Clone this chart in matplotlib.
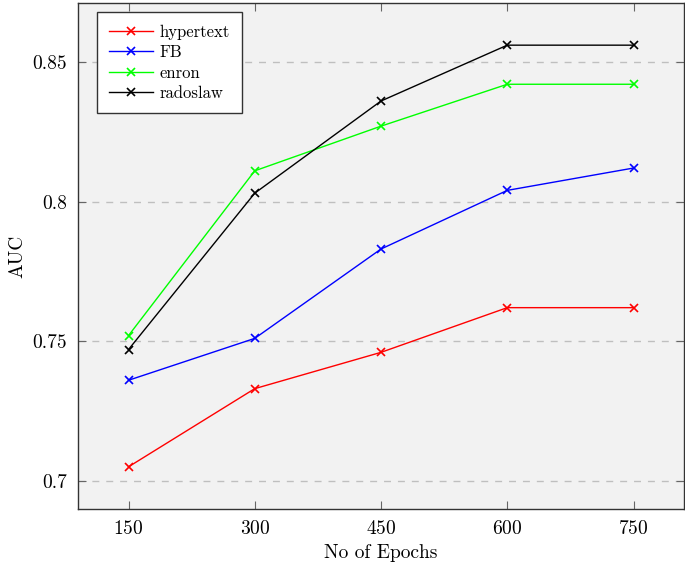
import matplotlib.pyplot as plt

plt.rcParams['font.family'] = 'cmr10'
plt.rcParams['axes.formatter.use_mathtext'] = True

epochs = [150, 300, 450, 600, 750]
hypertext = [0.705, 0.733, 0.746, 0.762, 0.762]
fb = [0.736, 0.751, 0.783, 0.804, 0.812]
enron = [0.752, 0.811, 0.827, 0.842, 0.842]
radoslaw = [0.747, 0.803, 0.836, 0.856, 0.856]

series = [('hypertext', hypertext, 'red'),
          ('FB', fb, 'blue'),
          ('enron', enron, '#00ff00'),
          ('radoslaw', radoslaw, 'black')]

fig = plt.figure(figsize=(6.85, 5.64), dpi=100)
ax = fig.add_axes([78 / 685, 1 - 509 / 564, 606 / 685, 506 / 564])
ax.set_facecolor('#f2f2f2')

for name, vals, col in series:
    ax.plot(epochs, vals, color=col, marker='x', markersize=6, linewidth=1,
            markeredgewidth=1.2, label=name)

ax.set_xlim(90, 810)
ax.set_ylim(0.6899, 0.8711)
ax.set_xticks(epochs)
ax.set_yticks([0.7, 0.75, 0.8, 0.85])
ax.set_yticklabels(['0.7', '0.75', '0.8', '0.85'])
ax.grid(True, axis='y', linestyle=(0, (5, 5)), color='#bfbfbf', linewidth=1)
ax.set_axisbelow(True)
ax.tick_params(direction='in', length=6, color='#666666', labelsize=14,
               top=True, right=True, pad=8)
for s in ax.spines.values():
    s.set_color('#333333')
    s.set_linewidth(1)

ax.set_xlabel('No of Epochs', fontsize=14)
ax.set_ylabel('AUC', fontsize=14)

leg = ax.legend(loc='upper left', bbox_to_anchor=(0.031, 0.982), fontsize=12,
                fancybox=False, framealpha=1, edgecolor='#333333',
                handlelength=2.6, handletextpad=0.4, borderpad=0.75,
                labelspacing=0.3, borderaxespad=0)
leg.get_frame().set_linewidth(1)

plt.savefig('out.png', dpi=100)
